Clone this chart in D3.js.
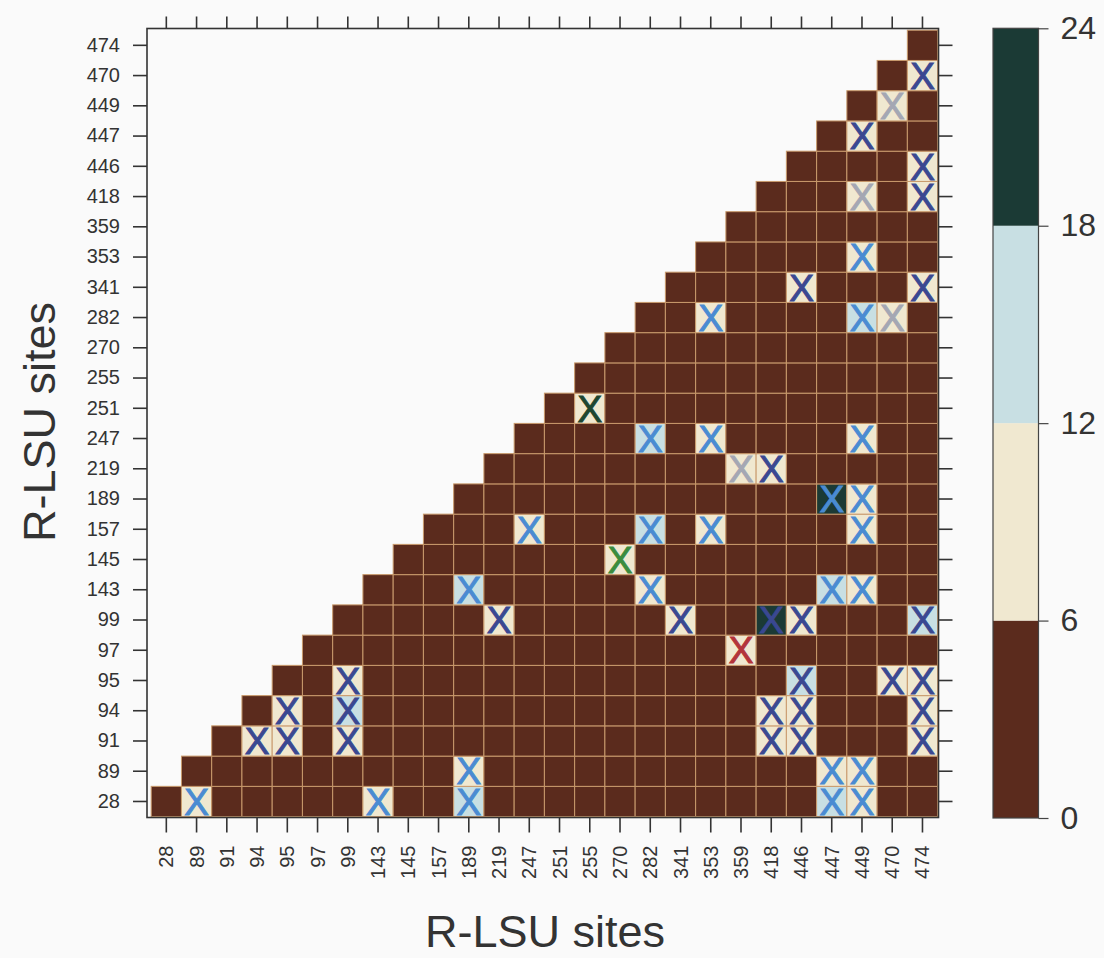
<!DOCTYPE html>
<html>
<head>
<meta charset="utf-8">
<script src="https://cdn.jsdelivr.net/npm/d3@7"></script>
<style>
  html, body { margin: 0; padding: 0; background: #fafafa; }
  svg { display: block; }
  text { font-family: "Liberation Sans", Arial, Helvetica, sans-serif; fill: #333; }
</style>
</head>
<body>
<svg id="chart" width="1104" height="958"></svg>
<script>
// Sites on both axes (bottom-to-top on y, left-to-right on x)
const sites = [28, 89, 91, 94, 95, 97, 99, 143, 145, 157, 189, 219, 247, 251, 255,
               270, 282, 341, 353, 359, 418, 446, 447, 449, 470, 474];

// Pair levels, one string per row site (28 first, 474 last), one character per column site.
// '.' = no cell, digit = level band (0: 0-6, 1: 6-12, 2: 12-18, 3: 18-24). Spaces only group columns by five.
const levelRows = [
  "01000 00100 20000 00000 00210 0", // 28
  ".0000 00000 10000 00000 00110 0", // 89
  "..011 01000 00000 00000 11000 1", // 91
  "...01 02000 00000 00000 11000 1", // 94
  "....0 01000 00000 00000 02001 1", // 95
  "..... 00000 00000 00001 00000 0", // 97
  "..... .0000 01000 00100 31000 2", // 99
  "..... ..000 20000 01000 00210 0", // 143
  "..... ...00 00000 10000 00000 0", // 145
  "..... ....0 00100 02010 00010 0", // 157
  "..... ..... 00000 00000 00310 0", // 189
  "..... ..... .0000 00001 10000 0", // 219
  "..... ..... ..000 02010 00010 0", // 247
  "..... ..... ...01 00000 00000 0", // 251
  "..... ..... ....0 00000 00000 0", // 255
  "..... ..... ..... 00000 00000 0", // 270
  "..... ..... ..... .0010 00021 0", // 282
  "..... ..... ..... ..000 01000 1", // 341
  "..... ..... ..... ...00 00010 0", // 353
  "..... ..... ..... ....0 00000 0", // 359
  "..... ..... ..... ..... 00010 1", // 418
  "..... ..... ..... ..... .0000 1", // 446
  "..... ..... ..... ..... ..010 0", // 447
  "..... ..... ..... ..... ...01 0", // 449
  "..... ..... ..... ..... ....0 1", // 470
  "..... ..... ..... ..... ..... 0"  // 474
];
// Estimated value for each level band
const levelValues = [3, 9, 15, 21];

// Colour key
const keyBreaks = [0, 6, 12, 18, 24];
const keyFills = ["#5b2b1d", "#f0e8d0", "#c8dfe3", "#1b3a35"];

// Marked pairs: [row site, column site, mark colour]
const marks = [
  [28, 89, "blue"], [28, 143, "blue"], [28, 189, "blue"], [28, 447, "blue"], [28, 449, "blue"],
  [89, 189, "blue"], [89, 447, "blue"], [89, 449, "blue"],
  [91, 94, "navy"], [91, 95, "navy"], [91, 99, "navy"], [91, 418, "navy"], [91, 446, "navy"], [91, 474, "navy"],
  [94, 95, "navy"], [94, 99, "navy"], [94, 418, "navy"], [94, 446, "navy"], [94, 474, "navy"],
  [95, 99, "navy"], [95, 446, "navy"], [95, 470, "navy"], [95, 474, "navy"],
  [97, 359, "red"],
  [99, 219, "navy"], [99, 341, "navy"], [99, 418, "navy"], [99, 446, "navy"], [99, 474, "navy"],
  [143, 189, "blue"], [143, 282, "blue"], [143, 447, "blue"], [143, 449, "blue"],
  [145, 270, "green"],
  [157, 247, "blue"], [157, 282, "blue"], [157, 353, "blue"], [157, 449, "blue"],
  [189, 447, "blue"], [189, 449, "blue"],
  [219, 359, "grey"], [219, 418, "navy"],
  [247, 282, "blue"], [247, 353, "blue"], [247, 449, "blue"],
  [251, 255, "darkgreen"],
  [282, 353, "blue"], [282, 449, "blue"], [282, 470, "grey"],
  [341, 446, "navy"], [341, 474, "navy"],
  [353, 449, "blue"],
  [418, 449, "grey"], [418, 474, "navy"],
  [446, 474, "navy"],
  [447, 449, "navy"],
  [449, 470, "grey"],
  [470, 474, "navy"]
];
const markColours = {
  navy: "#3a4891", blue: "#4a8bd2", grey: "#a4a7b3",
  green: "#3b8c3e", darkgreen: "#1d4630", red: "#b3343a"
};

// ---- layout ----
const svg = d3.select("#chart");
const frame = { left: 147, right: 938.5, top: 28.5, bottom: 817.5 };
const cellBox = { left: 151.2, right: 937.6, top: 30.2, bottom: 816.6 };
const labels = sites.map(String);

const x = d3.scaleBand().domain(labels).range([cellBox.left, cellBox.right]);
const y = d3.scaleBand().domain(labels.slice().reverse()).range([cellBox.top, cellBox.bottom]);
const fill = d3.scaleThreshold().domain(keyBreaks.slice(1, -1)).range(keyFills);

// Cells
const cells = [];
levelRows.forEach((row, r) => {
  const chars = row.replace(/ /g, "");
  chars.split("").forEach((ch, c) => {
    if (ch !== ".") cells.push({ row: labels[r], col: labels[c], value: levelValues[+ch] });
  });
});

svg.append("g").selectAll("rect")
  .data(cells).join("rect")
  .attr("x", d => x(d.col))
  .attr("y", d => y(d.row))
  .attr("width", x.bandwidth())
  .attr("height", y.bandwidth())
  .attr("fill", d => fill(d.value))
  .attr("stroke", "#c99a6c")
  .attr("stroke-width", 1);

// X marks
const markSize = 37;
svg.append("g").selectAll("text")
  .data(marks).join("text")
  .attr("x", d => x(String(d[1])) + x.bandwidth() / 2)
  .attr("y", d => y(String(d[0])) + y.bandwidth() / 2 + markSize * 0.716 / 2)
  .attr("text-anchor", "middle")
  .style("font-size", markSize + "px")
  .style("fill", d => markColours[d[2]])
  .style("stroke", d => markColours[d[2]])
  .style("stroke-width", 1)
  .text("X");

// Frame
svg.append("rect")
  .attr("x", frame.left).attr("y", frame.top)
  .attr("width", frame.right - frame.left).attr("height", frame.bottom - frame.top)
  .attr("fill", "none").attr("stroke", "#333").attr("stroke-width", 1.6);

// Axes (ticks on all four sides, labels left and bottom)
const tickLen = 14;
const axisStyle = g => {
  g.select(".domain").remove();
  g.selectAll(".tick line").attr("stroke", "#333").attr("stroke-width", 1.6);
};

const axisLeftG = svg.append("g").attr("transform", `translate(${frame.left},0)`)
  .call(d3.axisLeft(y).tickSize(tickLen).tickPadding(13)).call(axisStyle);
axisLeftG.selectAll(".tick text").style("font-size", "20px").style("fill", "#333");

svg.append("g").attr("transform", `translate(${frame.right},0)`)
  .call(d3.axisRight(y).tickSize(tickLen).tickFormat("")).call(axisStyle);

svg.append("g").attr("transform", `translate(0,${frame.top})`)
  .call(d3.axisTop(x).tickSize(tickLen - 2).tickFormat("")).call(axisStyle);

const axisBottomG = svg.append("g").attr("transform", `translate(0,${frame.bottom})`)
  .call(d3.axisBottom(x).tickSize(tickLen + 1)).call(axisStyle);
axisBottomG.selectAll(".tick text")
  .style("font-size", "20px").style("fill", "#333")
  .attr("text-anchor", "end")
  .attr("transform", "rotate(-90)")
  .attr("x", -28).attr("y", 0).attr("dy", "0.35em");

// Axis titles
svg.append("text")
  .attr("x", 545).attr("y", 947)
  .attr("text-anchor", "middle")
  .style("font-size", "45px")
  .text("R-LSU sites");

svg.append("text")
  .attr("transform", "translate(55,422) rotate(-90)")
  .attr("text-anchor", "middle")
  .style("font-size", "45px")
  .text("R-LSU sites");

// Colour key
const key = { left: 993, right: 1038.5, top: 28.3, bottom: 818 };
const ky = d3.scaleLinear().domain([keyBreaks[0], keyBreaks[keyBreaks.length - 1]])
  .range([key.bottom, key.top]);
const keyBands = keyFills.map((c, i) => ({ lo: keyBreaks[i], hi: keyBreaks[i + 1], colour: c }));

svg.append("g").selectAll("rect")
  .data(keyBands).join("rect")
  .attr("x", key.left).attr("width", key.right - key.left)
  .attr("y", d => ky(d.hi)).attr("height", d => ky(d.lo) - ky(d.hi))
  .attr("fill", d => d.colour);

svg.append("rect")
  .attr("x", key.left).attr("y", key.top)
  .attr("width", key.right - key.left).attr("height", key.bottom - key.top)
  .attr("fill", "none").attr("stroke", "#444").attr("stroke-width", 1.2);

const keyAxis = svg.append("g").attr("transform", `translate(${key.right},0)`)
  .call(d3.axisRight(ky).tickValues(keyBreaks).tickSize(10).tickPadding(12));
keyAxis.select(".domain").remove();
keyAxis.selectAll(".tick line").attr("stroke", "#444").attr("stroke-width", 1.2);
keyAxis.selectAll(".tick text").style("font-size", "32px").style("fill", "#333");
</script>
</body>
</html>
